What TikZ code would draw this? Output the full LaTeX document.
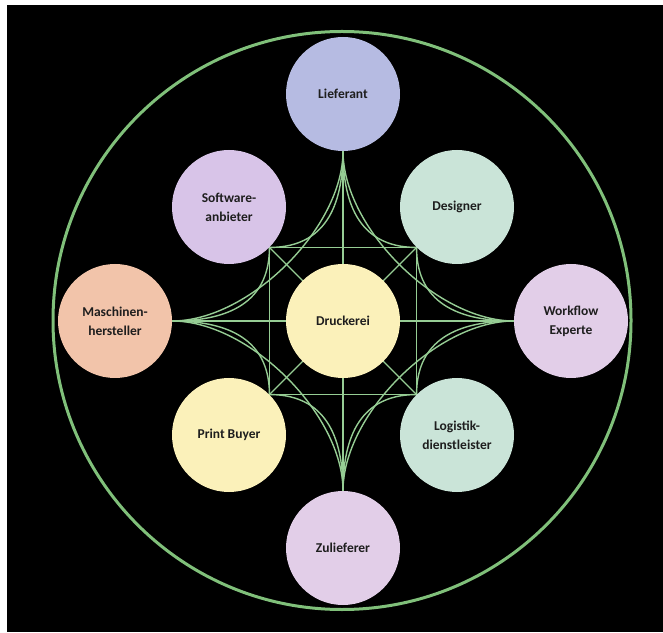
\documentclass[tikz,border=0pt]{standalone}
\usepackage{fontspec}
\setmainfont{Carlito}
\usetikzlibrary{calc,backgrounds}

\definecolor{ring}{RGB}{128,192,122}
\definecolor{web}{RGB}{150,205,148}
\definecolor{ink}{RGB}{30,30,30}
\definecolor{cBlue}{RGB}{182,187,226}
\definecolor{cLilac}{RGB}{216,196,232}
\definecolor{cPink}{RGB}{226,206,232}
\definecolor{cMint}{RGB}{202,228,216}
\definecolor{cPeach}{RGB}{242,196,170}
\definecolor{cYellow}{RGB}{251,241,186}

\begin{document}
\begin{tikzpicture}[x=1pt,y=1pt,
  actor/.style={circle, minimum size=114pt, inner sep=0pt, align=center,
    font=\fontsize{13.5}{19}\selectfont\bfseries, text=ink},
  link/.style={draw=web, line width=1.4pt}]
\useasboundingbox (0,0) rectangle (663,632);

% central company and its partners
\node[actor, fill=cYellow] (dr)   at (343,311) {Druckerei};
\node[actor, fill=cBlue]   (lief) at (343,538) {Lieferant};
\node[actor, fill=cPink]   (zul)  at (343,84)  {Zulieferer};
\node[actor, fill=cPeach]  (mas)  at (115,311) {Maschinen-\\hersteller};
\node[actor, fill=cPink]   (wf)   at (571,311) {Workflow\\Experte};
\node[actor, fill=cLilac]  (sw)   at (229,425) {Software-\\anbieter};
\node[actor, fill=cMint]   (de)   at (457,425) {Designer};
\node[actor, fill=cYellow] (pb)   at (229,197) {Print Buyer};
\node[actor, fill=cMint]   (lo)   at (457,197) {Logistik-\\dienstleister};

\begin{scope}[on background layer]
  \fill[white] (0,0) rectangle (663,632);
  \fill[black] (7,0) rectangle (663,627);
  \draw[ring, line width=3pt] (342,311.5) circle (289);

  % straight connections
  \draw[link] (lief) -- (zul);
  \draw[link] (mas) -- (wf);
  \draw[link] (sw.-45) -- (de.-135);
  \draw[link] (pb.45) -- (lo.135);
  \draw[link] (sw.-45) -- (pb.45);
  \draw[link] (de.-135) -- (lo.135);
  \draw[link] (sw.-45) -- (lo.135);
  \draw[link] (de.-135) -- (pb.45);

  % curved connections of the star
  \foreach \v/\h/\d/\da in {lief.south/mas.east/sw/-45, lief.south/wf.west/de/-135,
                            zul.north/mas.east/pb/45, zul.north/wf.west/lo/135} {
    \draw[link] (\v) .. controls ($(\v)!2/3!(\v |- \d.\da)$)
                     and ($(\d.\da)!2/3!(\v |- \d.\da)$) .. (\d.\da);
    \draw[link] (\h) .. controls ($(\h)!2/3!(\d.\da |- \h)$)
                     and ($(\d.\da)!2/3!(\d.\da |- \h)$) .. (\d.\da);
    \draw[link] (\v) .. controls ($(\v)!0.45!(\v |- \h)$)
                     and ($(\h)!0.45!(\v |- \h)$) .. (\h);
  }
\end{scope}
\end{tikzpicture}
\end{document}
